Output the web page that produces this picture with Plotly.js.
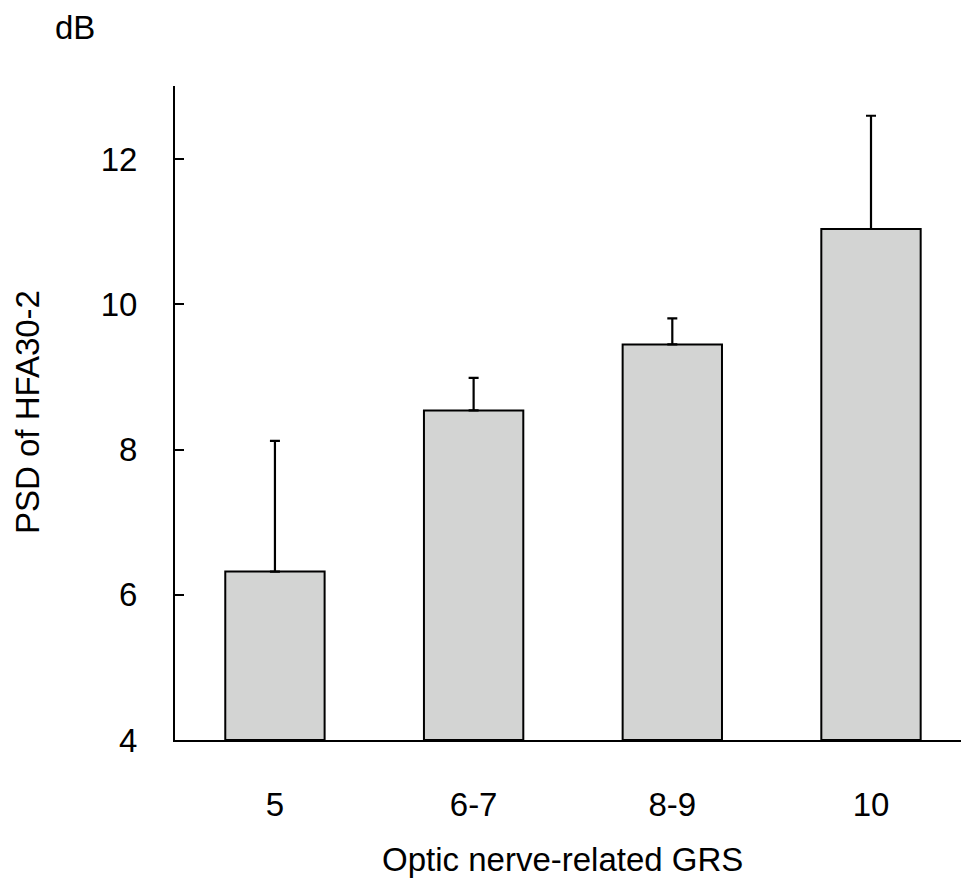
<!DOCTYPE html>
<html>
<head>
<meta charset="utf-8">
<script src="https://cdn.plot.ly/plotly-3.0.1.min.js"></script>
<style>html,body{margin:0;padding:0;background:#fff;}#chart{width:961px;height:881px;}</style>
</head>
<body>
<div id="chart"></div>
<script>
const categories = ["5", "6-7", "8-9", "10"];
const psdMeans = [6.32, 8.54, 9.45, 11.04];
const psdErrors = [1.80, 0.45, 0.36, 1.56];
const positions = [0, 1, 2, 3];
const yTicks = [4, 6, 8, 10, 12];
const yBase = 4;

const font = "Liberation Sans, Arial, Helvetica, sans-serif";
const fs = 33;

const trace = {
  type: "bar",
  x: positions,
  y: psdMeans.map(v => v - yBase),
  base: yBase,
  width: 0.5,
  marker: {color: "#d3d4d3", line: {color: "#000", width: 2}},
  error_y: {type: "data", symmetric: false, array: psdErrors, arrayminus: psdErrors.map(() => 0),
            color: "#000", thickness: 2.2, width: 5},
  hoverinfo: "none"
};

const layout = {
  width: 961, height: 881,
  margin: {l: 175, r: 0, t: 86, b: 141},
  paper_bgcolor: "#fff", plot_bgcolor: "#fff",
  showlegend: false,
  font: {family: font, size: fs, color: "#000"},
  xaxis: {
    range: [-0.503, 3.453],
    tickvals: positions, ticktext: categories,
    showline: true, linecolor: "#000", linewidth: 2,
    ticks: "", showgrid: false, zeroline: false,
    ticklabelstandoff: 34,
    tickfont: {family: font, size: fs, color: "#000"}
  },
  yaxis: {
    range: [4, 13.01],
    tickvals: yTicks,
    showline: true, linecolor: "#000", linewidth: 2,
    ticks: "inside", ticklen: 9, tickwidth: 2, tickcolor: "#000",
    showgrid: false, zeroline: false,
    ticklabelstandoff: 29,
    tickfont: {family: font, size: fs, color: "#000"}
  },
  annotations: [
    {text: "dB", xref: "paper", yref: "paper", x: (75 - 175) / 786, y: 1 + (86 - 27) / 654,
     xanchor: "center", yanchor: "middle", showarrow: false, font: {family: font, size: fs, color: "#000"}},
    {text: "Optic nerve-related GRS", xref: "paper", yref: "paper", x: (562 - 175) / 786, y: -(859 - 740) / 654,
     xanchor: "center", yanchor: "middle", showarrow: false, font: {family: font, size: fs, color: "#000"}},
    {text: "PSD of HFA30-2", xref: "paper", yref: "paper", x: (27 - 175) / 786, y: (740 - 412) / 654, textangle: -90,
     xanchor: "center", yanchor: "middle", showarrow: false, font: {family: font, size: fs, color: "#000"}}
  ]
};

Plotly.newPlot("chart", [trace], layout, {staticPlot: true, displayModeBar: false});
</script>
</body>
</html>
